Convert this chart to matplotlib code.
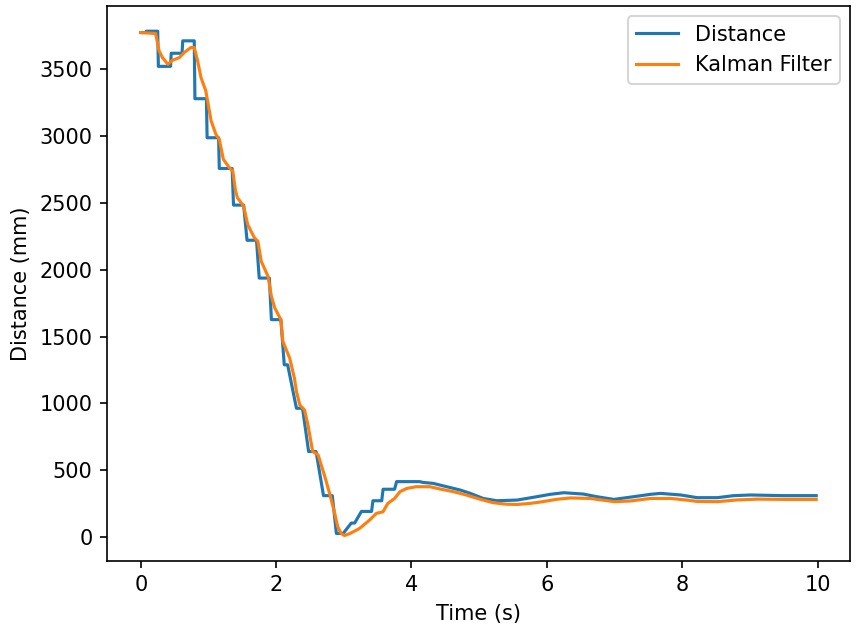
import matplotlib
matplotlib.use("Agg")
import matplotlib.pyplot as plt

# Distance sensor readings (corner points of the step-like trace)
dist_t = [0.00, 0.07, 0.08, 0.25, 0.26, 0.44, 0.45, 0.61, 0.62, 0.79, 0.80, 0.97,
          0.98, 1.15, 1.16, 1.35, 1.37, 1.52, 1.57, 1.71, 1.75, 1.90, 1.93, 2.07,
          2.12, 2.17, 2.30, 2.39, 2.48, 2.59, 2.70, 2.83, 2.89, 2.99, 3.11, 3.16,
          3.26, 3.41, 3.43, 3.56, 3.58, 3.75, 3.78, 4.12, 4.17, 4.32, 4.52, 4.72,
          4.87, 5.06, 5.26, 5.56, 5.85, 6.05, 6.25, 6.54, 6.74, 6.99, 7.28, 7.53,
          7.68, 7.98, 8.22, 8.52, 8.76, 9.01, 9.51, 9.98]
dist_v = [3775, 3775, 3785, 3785, 3522, 3522, 3620, 3620, 3713, 3713, 3280, 3280,
          2988, 2988, 2758, 2758, 2484, 2484, 2221, 2221, 1938, 1938, 1627, 1627,
          1289, 1289, 964, 964, 640, 640, 310, 310, 27, 27, 105, 105,
          192, 192, 272, 272, 358, 358, 415, 415, 409, 402, 377, 352,
          327, 289, 272, 277, 302, 320, 332, 322, 302, 282, 302, 320,
          327, 315, 295, 295, 310, 315, 310, 310]

# Kalman filter estimate
kf_t = [0.00, 0.22, 0.27, 0.32, 0.40, 0.47, 0.57, 0.64, 0.74, 0.79, 0.84, 0.89,
        0.96, 1.04, 1.11, 1.16, 1.22, 1.31, 1.36, 1.40, 1.43, 1.52, 1.58, 1.68,
        1.73, 1.78, 1.88, 1.93, 1.98, 2.07, 2.10, 2.20, 2.27, 2.30, 2.35, 2.42,
        2.47, 2.54, 2.62, 2.72, 2.79, 2.86, 2.91, 2.96, 3.01, 3.09, 3.23, 3.38,
        3.48, 3.58, 3.65, 3.75, 3.83, 3.93, 4.07, 4.27, 4.42, 4.62, 4.81, 5.00,
        5.20, 5.40, 5.56, 5.75, 5.90, 6.15, 6.35, 6.64, 6.85, 7.00, 7.23, 7.53,
        7.83, 8.05, 8.22, 8.52, 8.81, 9.11, 9.51, 9.98]
kf_v = [3775, 3768, 3638, 3588, 3538, 3568, 3588, 3625, 3663, 3663, 3563, 3438,
        3340, 3113, 3013, 2976, 2826, 2763, 2738, 2590, 2538, 2476, 2338, 2238,
        2213, 2063, 1951, 1800, 1714, 1627, 1464, 1339, 1189, 1089, 989, 951,
        839, 640, 615, 452, 327, 190, 77, 27, 12, 27, 64, 127,
        177, 190, 252, 289, 340, 364, 377, 377, 360, 340, 315, 285,
        258, 246, 244, 252, 262, 283, 293, 289, 275, 265, 270, 289,
        289, 278, 267, 265, 278, 284, 282, 282]

fig = plt.figure(figsize=(860 / 150, 629 / 150), dpi=150)
ax = fig.add_axes([107 / 860, (629 - 560.7) / 629, (850 - 107) / 860, (560.7 - 6) / 629])
ax.plot(dist_t, dist_v, color="#1f77b4", label="Distance")
ax.plot(kf_t, kf_v, color="#ff7f0e", label="Kalman Filter")
ax.set_xlabel("Time (s)")
ax.set_ylabel("Distance (mm)")
ax.legend(loc="upper right")
fig.savefig("out.png", dpi=150)
